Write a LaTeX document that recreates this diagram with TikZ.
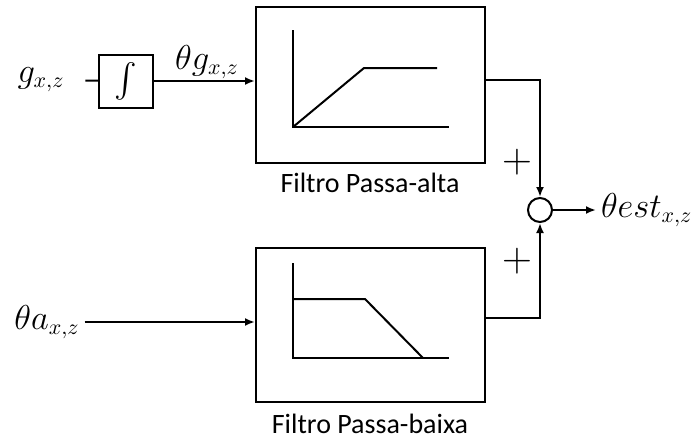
\documentclass[tikz,border=0pt]{standalone}
\usepackage{amsmath, amssymb}
\usepackage{fontspec}
\setmainfont{Carlito}
\usepackage{tikz}
\usetikzlibrary{arrows.meta}

\begin{document}
\begin{tikzpicture}[x=0.5pt,y=-0.5pt, line width=1pt,
    blockbox/.style={draw, rectangle, inner sep=0pt},
    lbl/.style={font=\fontsize{14}{16}\selectfont},
    plus/.style={font=\fontsize{20}{22}\selectfont, inner sep=0pt},
    mlbl/.style={font=\fontsize{16}{18}\selectfont, inner sep=2pt},
    sig/.style={-{Latex[length=5pt,width=4pt]}}]
        \useasboundingbox (0,0) rectangle (697,439);
        % Blocks: integrator, high-pass, low-pass, summing junction
        \node[blockbox, minimum width=27pt, minimum height=26.5pt,
              font=\fontsize{17}{19}\selectfont] (integ) at (126,81) {$\int$};
        \node[blockbox, minimum width=114.5pt, minimum height=78pt] (hp) at (370.5,85) {};
        \node[blockbox, minimum width=114.5pt, minimum height=77pt] (lp) at (370.5,325) {};
        \node[draw, circle, minimum size=12pt, inner sep=0pt] (sum) at (540,210) {};
        % Filter names under the boxes
        \node[lbl] (hpname) at (370,183) {Filtro Passa-alta};
        \node[lbl] (lpname) at (370,424) {Filtro Passa-baixa};
        % Signal labels
        \node[mlbl] (gin) at (41,80) {$g_{x,z}$};
        \node[mlbl] (ain) at (47,322) {$\theta a_{x,z}$};
        \node[mlbl] (thg) at (207,62) {$\theta g_{x,z}$};
        \node[mlbl, anchor=west] (out) at (596,210) {$\theta est_{x,z}$};
        \node[plus] (ptop) at (517,162) {$+$};
        \node[plus] (pbot) at (517,261) {$+$};
        % Signal lines
        \draw[shorten <=8pt] (gin) -- (integ);
        \draw[sig] (integ) -- (integ -| hp.west);
        \draw[sig] (ain) -- (ain -| lp.west);
        \draw[sig] ([yshift=0.5pt]hp.east |- integ) -| (sum);
        \draw[sig] ([yshift=3.5pt]lp.east) -| (sum);
        \draw[sig] (sum) -- (out);
        % Frequency response sketch, high-pass
        \draw (293,30) -- (293,127) -- (449,127);
        \draw (293,127) -- (364,68) -- (437,68);
        % Frequency response sketch, low-pass
        \draw (293,263) -- (293,358) -- (449,358);
        \draw (293,299) -- (365,299) -- (423,358);
      \end{tikzpicture}
\end{document}
